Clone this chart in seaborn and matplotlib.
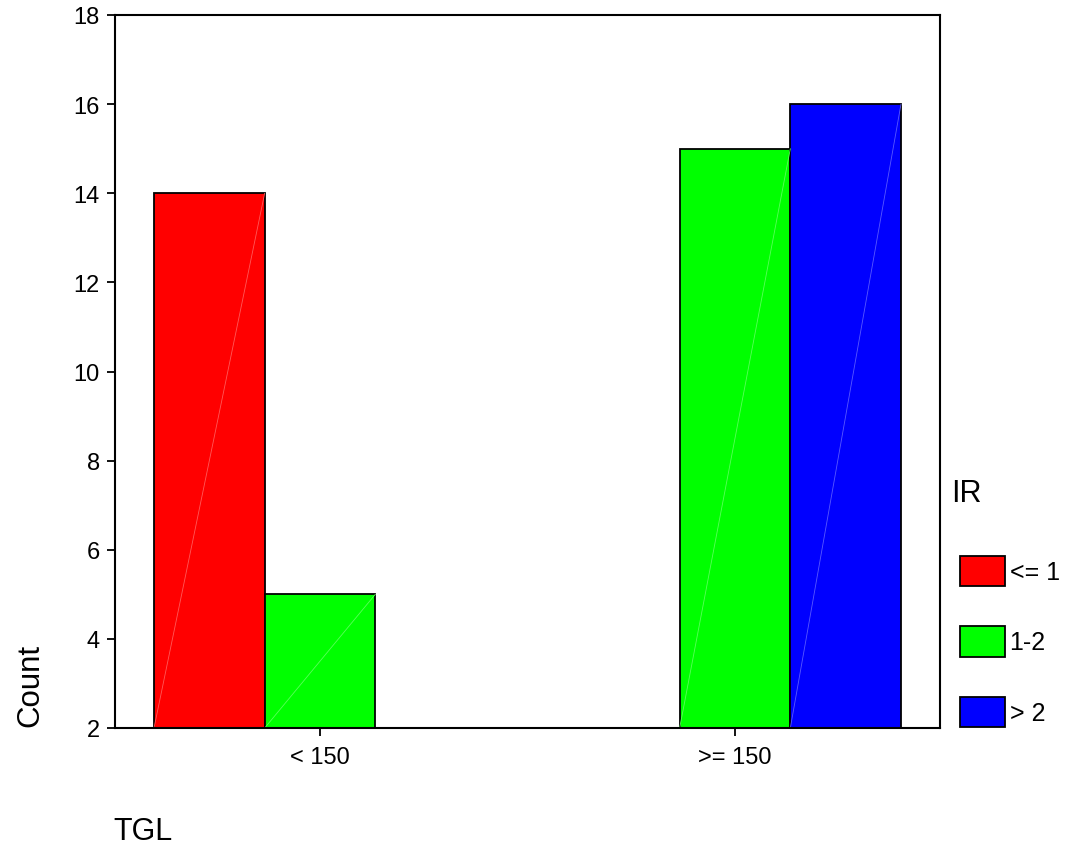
import matplotlib
matplotlib.use("Agg")
import matplotlib.pyplot as plt
import seaborn as sns
import pandas as pd
from matplotlib.patches import Patch

# Data
tgl_categories = ["< 150", ">= 150"]
ir_levels = ["<= 1", "1-2", "> 2"]
counts_lt150 = [14, 5, 0]
counts_ge150 = [0, 15, 16]
palette_colors = ["#FF0000", "#00FF00", "#0000FF"]
y_ticks = [2, 4, 6, 8, 10, 12, 14, 16, 18]

rows = []
for tgl, vals in zip(tgl_categories, [counts_lt150, counts_ge150]):
    for ir, v in zip(ir_levels, vals):
        rows.append({"TGL": tgl, "IR": ir, "Count": v})
df = pd.DataFrame(rows)

sns.set_theme(style="white")
plt.rcParams["font.family"] = ["Liberation Sans", "DejaVu Sans"]
plt.rcParams["text.color"] = "black"
plt.rcParams["axes.labelcolor"] = "black"
plt.rcParams["xtick.color"] = "black"
plt.rcParams["ytick.color"] = "black"

fig = plt.figure(figsize=(10.74, 8.54), dpi=100)
ax = fig.add_axes([115/1074, 1 - 729/854, (940-115)/1074, (729-16)/854])

sns.barplot(data=df, x="TGL", y="Count", hue="IR", order=tgl_categories,
            hue_order=ir_levels, palette=palette_colors, width=0.8,
            edgecolor="black", linewidth=1.3, saturation=1.0, ax=ax, legend=False)

ax.set_ylim(2, 18)
ax.set_xlim(-0.494, 1.494)
ax.set_yticks(y_ticks)
ax.set_yticklabels([str(t) for t in y_ticks])
ax.set_xlabel("")
ax.set_ylabel("")

for s in ax.spines.values():
    s.set_visible(True)
    s.set_color("black")
    s.set_linewidth(1.5)

ax.tick_params(axis="y", direction="out", length=6, width=1.3, colors="black",
               labelsize=17, pad=5, left=True)
ax.tick_params(axis="x", direction="out", length=6, width=1.3, colors="black",
               labelsize=17, pad=7, bottom=True)

# faint diagonal like the original rendering
for p in ax.patches:
    h = p.get_height()
    if h <= 2:
        continue
    x0 = p.get_x()
    x1 = x0 + p.get_width()
    fc = p.get_facecolor()
    light = tuple(min(1, c + 0.35) for c in fc[:3])
    ax.plot([x0, x1], [2, h], color=light, lw=0.6, zorder=p.get_zorder() + 0.1)

fig.text(30/1074, 1 - 685/854, "Count", rotation=90, fontsize=22.5,
         ha="center", va="center", color="black")
fig.text(143/1074, 1 - 832/854, "TGL", fontsize=22, ha="center", va="center",
         color="black")
fig.text(951/1074, 1 - 494/854, "IR", fontsize=22, ha="left", va="center",
         color="black")

handles = [Patch(facecolor=c, edgecolor="black", linewidth=1.3) for c in palette_colors]
leg = fig.legend(handles, ir_levels, loc="upper left",
                 bbox_to_anchor=(942/1074, 1 - 539/854), frameon=False,
                 fontsize=18, handlelength=1.8,
                 handleheight=1.5, labelspacing=1.6, handletextpad=0.2,
                 borderpad=0.2)
for t in leg.get_texts():
    t.set_color("black")

fig.savefig("out.png", dpi=100)
